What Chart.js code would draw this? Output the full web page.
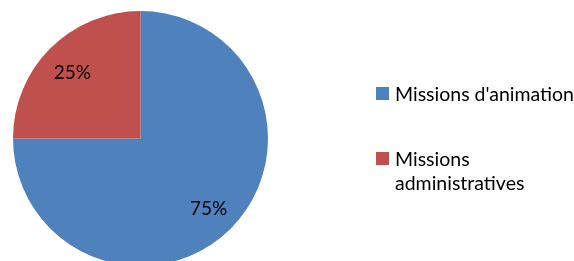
<!DOCTYPE html>
<html>
<head>
<meta charset="utf-8">
<script src="https://cdn.jsdelivr.net/npm/chart.js@4.4.0/dist/chart.umd.min.js"></script>
<style>
  html, body { margin: 0; padding: 0; background: #fff; overflow: hidden; width: 574px; height: 261px; }
  #wrap { position: absolute; left: 0; top: 0; width: 574px; height: 280px; }
</style>
</head>
<body>
<div id="wrap"><canvas id="myChart"></canvas></div>
<script>
// chart data
var categories = ["Missions d'animation", "Missions administratives"];
var legendLines = [["Missions d'animation"], ["Missions", "administratives"]];
var values = [75, 25];
var colors = ['#4F81BD', '#C0504D'];

var LABEL_FONT = '19px Lato, "Open Sans", sans-serif';
var LEGEND_FONT = '19.5px Lato, "Open Sans", sans-serif';

// percent labels inside slices
var sliceLabels = {
  id: 'sliceLabels',
  afterDatasetsDraw: function (chart) {
    var ctx = chart.ctx;
    var meta = chart.getDatasetMeta(0);
    var total = values.reduce(function (a, b) { return a + b; }, 0);
    ctx.save();
    ctx.font = LABEL_FONT;
    ctx.fillStyle = '#000';
    ctx.textAlign = 'center';
    ctx.textBaseline = 'middle';
    meta.data.forEach(function (arc, i) {
      var p = arc.getProps(['x', 'y', 'startAngle', 'endAngle', 'outerRadius'], true);
      var mid = (p.startAngle + p.endAngle) / 2;
      var r = p.outerRadius * 0.755;
      var txt = Math.round(values[i] / total * 100) + '%';
      ctx.fillText(txt, p.x + Math.cos(mid) * r, p.y + Math.sin(mid) * r + 2.5);
    });
    ctx.restore();
  }
};

// legend on the right
var sideLegend = {
  id: 'sideLegend',
  afterDraw: function (chart) {
    var ctx = chart.ctx;
    var tops = [87, 152];
    ctx.save();
    ctx.font = LEGEND_FONT;
    ctx.textBaseline = 'alphabetic';
    for (var i = 0; i < categories.length; i++) {
      ctx.fillStyle = colors[i];
      ctx.fillRect(376, tops[i], 13, 13);
      ctx.fillStyle = '#000';
      for (var j = 0; j < legendLines[i].length; j++) {
        ctx.fillText(legendLines[i][j], 395, tops[i] + 14 + j * 24);
      }
    }
    ctx.restore();
  }
};

var ctx = document.getElementById('myChart').getContext('2d');
var myChart = new Chart(ctx, {
  type: 'pie',
  data: {
    labels: categories,
    datasets: [{
      data: values,
      backgroundColor: colors,
      borderWidth: 0
    }]
  },
  options: {
    responsive: true,
    maintainAspectRatio: false,
    animation: false,
    layout: { padding: { left: 13, top: 11, right: 306, bottom: 14 } },
    plugins: {
      legend: { display: false },
      tooltip: { enabled: false }
    }
  },
  plugins: [sliceLabels, sideLegend]
});
</script>
</body>
</html>
